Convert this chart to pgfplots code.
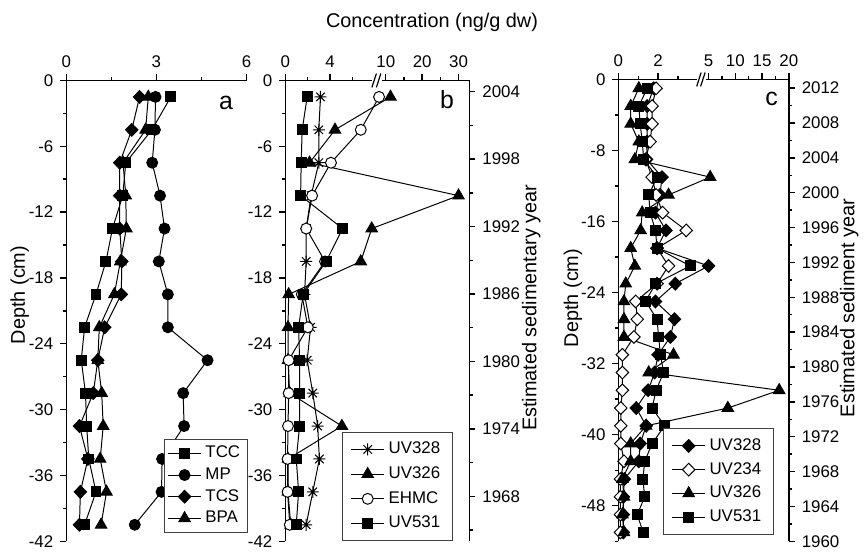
\documentclass[border=0pt]{standalone}
\usepackage{fontspec}
\setmainfont{Liberation Sans}
\usepackage{pgfplots}
\pgfplotsset{compat=1.18}

\pgfdeclareplotmark{ast8}{%
  \pgfpathmoveto{\pgfqpoint{-\pgfplotmarksize}{0pt}}\pgfpathlineto{\pgfqpoint{\pgfplotmarksize}{0pt}}%
  \pgfpathmoveto{\pgfqpoint{0pt}{-\pgfplotmarksize}}\pgfpathlineto{\pgfqpoint{0pt}{\pgfplotmarksize}}%
  \pgfpathmoveto{\pgfqpoint{-.707\pgfplotmarksize}{-.707\pgfplotmarksize}}\pgfpathlineto{\pgfqpoint{.707\pgfplotmarksize}{.707\pgfplotmarksize}}%
  \pgfpathmoveto{\pgfqpoint{-.707\pgfplotmarksize}{.707\pgfplotmarksize}}\pgfpathlineto{\pgfqpoint{.707\pgfplotmarksize}{-.707\pgfplotmarksize}}%
  \pgfusepathqstroke}

\pgfplotsset{
  panel/.style={
    scale only axis, anchor=south west, clip=false,
    axis line style={-, line width=0.7pt},
    tick align=outside, major tick length=3pt, minor tick length=1.8pt,
    every tick/.style={black, line width=0.7pt},
    tick label style={font=\fontsize{8.5}{10}\selectfont},
    /pgf/number format/assume math mode=true,
    /pgf/number format/1000 sep={},
    legend cell align=left,
    legend style={font=\fontsize{8.5}{10}\selectfont, draw=black!75, inner sep=1.5pt, row sep=-0.5pt},
    legend image code/.code={\draw[mark repeat=2,mark phase=2] plot coordinates {(0cm,0cm)(0.29cm,0cm)(0.58cm,0cm)};},
  },
  every axis plot/.append style={black, line width=0.5pt},
  sq/.style={mark=square*, mark size=2.5pt, mark options={solid, fill=black}},
  ci/.style={mark=*, mark size=2.75pt, mark options={solid, fill=black}},
  oc/.style={mark=*, mark size=2.75pt, mark options={solid, fill=white}},
  di/.style={mark=diamond*, mark size=3.2pt, mark options={solid, fill=black, xscale=1.3}},
  od/.style={mark=diamond*, mark size=3.2pt, mark options={solid, fill=white, xscale=1.3}},
  tr/.style={mark=triangle*, mark size=3.3pt, mark options={solid, fill=black}},
  as/.style={mark=ast8, mark size=3pt, mark options={solid}},
}

\begin{document}
\begin{tikzpicture}
\path (0,0) rectangle (432.5pt,277.5pt);

% ---------- panel a ----------
\begin{axis}[panel, at={(33.35pt,5pt)}, width=90.8pt, height=232pt,
  xmin=0, xmax=6, ymin=-42, ymax=0,
  axis x line*=top, axis y line*=left,
  xtick={0,3,6}, minor xtick={1.5,4.5},
  ytick={-42,-36,...,0}, minor ytick={-39,-33,...,-3},
  legend style={at={(axis description cs:1.005,0.018)}, anchor=south east}]
\addplot[sq] coordinates {(3.48,-1.5)(2.85,-4.5)(1.98,-7.5)(1.88,-10.5)(1.54,-13.5)(1.32,-16.5)(0.99,-19.5)(0.61,-22.5)(0.50,-25.5)(0.64,-28.5)(0.68,-31.5)(0.75,-34.5)(0.99,-37.5)(0.61,-40.5)};
\addlegendentry{TCC}
\addplot[ci] coordinates {(2.97,-1.5)(2.95,-4.5)(2.86,-7.5)(3.12,-10.5)(3.27,-13.5)(3.08,-16.5)(3.38,-19.5)(3.38,-22.5)(4.70,-25.5)(3.89,-28.5)(3.92,-31.5)(3.19,-34.5)(3.17,-37.5)(2.28,-40.5)};
\addlegendentry{MP}
\addplot[di] coordinates {(2.44,-1.5)(2.18,-4.5)(1.78,-7.5)(1.78,-10.5)(1.78,-13.5)(1.85,-16.5)(1.83,-19.5)(1.28,-22.5)(1.05,-25.5)(0.90,-28.5)(0.44,-31.5)(0.72,-34.5)(0.47,-37.5)(0.44,-40.5)};
\addlegendentry{TCS}
\addplot[tr] coordinates {(2.73,-1.5)(2.64,-4.5)(1.89,-7.5)(1.98,-10.5)(2.00,-13.5)(1.80,-16.5)(1.60,-19.5)(1.10,-22.5)(1.05,-25.5)(1.18,-28.5)(1.23,-31.5)(1.13,-34.5)(1.34,-37.5)(1.16,-40.5)};
\addlegendentry{BPA}
\end{axis}

% ---------- panel b ----------
\begin{axis}[panel, at={(143.65pt,5pt)}, width=92.7pt, height=232pt,
  x coord trafo/.code={\pgfmathparse{#1<9.5 ? #1 : 9+(#1-10)*0.326}},
  x coord inv trafo/.code={\pgfmathparse{#1}},
  xmin=0, xmax=33, ymin=-42, ymax=0,
  axis x line*=top, axis y line*=left,
  xtick={0,4,10,20,30}, xticklabels={0,4,10,20,30}, minor xtick={2,6,15,25},
  ytick={-42,-36,...,0}, minor ytick={-39,-33,...,-3},
  legend style={at={(axis description cs:0.908,0)}, anchor=south east, inner xsep=4pt, inner ysep=3pt, row sep=1pt}]
\addplot[as] coordinates {(3.15,-1.5)(3.0,-4.5)(3.0,-7.5)(2.31,-10.5)(1.87,-13.5)(1.87,-16.5)(1.72,-19.5)(2.26,-22.5)(1.96,-25.5)(2.46,-28.5)(2.9,-31.5)(3.05,-34.5)(2.46,-37.5)(1.87,-40.5)};
\addlegendentry{UV328}
\addplot[tr] coordinates {(11.3,-1.5)(4.45,-4.5)(2.17,-7.5)(30,-10.5)(7.74,-13.5)(6.76,-16.5)(0.3,-19.5)(0.24,-22.5)(0.24,-25.5)(0.39,-28.5)(5.07,-31.5)(0.24,-34.5)(0.24,-37.5)(0.48,-40.5)};
\addlegendentry{UV326}
\addplot[oc] coordinates {(8.4,-1.5)(6.76,-4.5)(4.09,-7.5)(2.4,-10.5)(1.87,-13.5)(3.56,-16.5)(1.48,-19.5)(2.02,-22.5)(0.3,-25.5)(0.3,-28.5)(0.24,-31.5)(0.2,-34.5)(0.2,-37.5)(0.4,-40.5)};
\addlegendentry{EHMC}
\addplot[sq] coordinates {(1.96,-1.5)(1.51,-4.5)(1.42,-7.5)(1.37,-10.5)(5.13,-13.5)(3.65,-16.5)(1.6,-19.5)(1.19,-22.5)(1.28,-25.5)(1.28,-28.5)(1.28,-31.5)(0.98,-34.5)(1.19,-37.5)(0.98,-40.5)};
\addlegendentry{UV531}
\end{axis}
\begin{axis}[panel, at={(143.65pt,5pt)}, width=92.7pt, height=232pt,
  xmin=0, xmax=1, ymin=1964, ymax=2005,
  axis x line=none, axis y line*=right,
  ytick={1968,1974,...,2004}, minor ytick={1965,1971,...,2001}]
\end{axis}

% ---------- panel c ----------
\begin{axis}[panel, at={(311.35pt,5pt)}, width=85.8pt, height=232.5pt,
  x coord trafo/.code={\pgfmathparse{#1<4.6 ? #1 : 4.55+(#1-5)*0.27}},
  x coord inv trafo/.code={\pgfmathparse{#1}},
  xmin=0, xmax=20, ymin=-52, ymax=0,
  axis x line*=top, axis y line*=left,
  xtick={0,2,5,10,15,20}, xticklabels={0,2,5,10,15,20}, minor xtick={1,3,7.5,12.5,17.5},
  ytick={-48,-40,...,0}, minor ytick={-52,-44,...,-4},
  legend style={at={(axis description cs:0.91,0.014)}, anchor=south east, inner xsep=4pt, inner ysep=3pt, row sep=0.5pt}]
\addplot[di] coordinates {(1.78,-1)(1.45,-3)(1.45,-5)(1.45,-7)(1.42,-9)(2.20,-11)(2.10,-13)(1.87,-15)(2.40,-17)(1.95,-19)(5.0,-21)(2.87,-23)(1.87,-25)(2.83,-27)(2.62,-29)(2.00,-31)(1.83,-33)(1.50,-35)(0.90,-37)(1.40,-39)(1.10,-41)(1.03,-43)(0.30,-45)(0.25,-47)(0.25,-49)(0.25,-51)};
\addlegendentry{UV328}
\addplot[od] coordinates {(1.90,-1)(1.70,-3)(1.70,-5)(1.60,-7)(1.37,-9)(1.70,-11)(1.90,-13)(2.23,-15)(3.42,-17)(1.95,-19)(2.53,-21)(1.95,-23)(0.87,-25)(0.95,-27)(0.78,-29)(0.20,-31)(0.20,-33)(0.20,-35)(0.12,-37)(0.12,-39)(0.12,-41)(0.28,-43)(0.10,-45)(0.10,-47)(0.10,-49)(0.10,-51)};
\addlegendentry{UV234}
\addplot[tr] coordinates {(1.03,-1)(0.62,-3)(0.62,-5)(1.03,-7)(0.83,-9)(5.3,-11)(2.53,-13)(1.20,-15)(1.12,-17)(0.62,-19)(0.83,-21)(0.37,-23)(0.28,-25)(0.28,-27)(0.28,-29)(2.78,-31)(1.53,-33)(18.2,-35)(8.6,-37)(1.40,-39)(0.62,-41)(0.62,-43)(0.20,-45)(0.28,-47)(0.20,-49)(0.28,-51)};
\addlegendentry{UV326}
\addplot[sq] coordinates {(1.45,-1)(1.03,-3)(1.10,-5)(1.20,-7)(1.28,-9)(1.95,-11)(1.53,-13)(1.60,-15)(1.87,-17)(1.95,-19)(3.62,-21)(1.87,-23)(1.37,-25)(1.95,-27)(2.03,-29)(2.12,-31)(2.28,-33)(1.90,-35)(1.70,-37)(2.33,-39)(1.70,-41)(1.33,-43)(1.23,-45)(1.33,-47)(0.95,-49)(1.25,-51)};
\addlegendentry{UV531}
\end{axis}
\begin{axis}[panel, at={(311.35pt,5pt)}, width=85.8pt, height=232.5pt,
  xmin=0, xmax=1, ymin=1960, ymax=2013,
  axis x line=none, axis y line*=right,
  ytick={1960,1964,...,2012}, minor ytick={1962,1966,...,2010}]
\end{axis}

% ---------- labels and axis breaks (image pixel units) ----------
\begin{scope}[x=0.5pt, y=-0.5pt, yshift=277.5pt, font=\fontsize{10}{12}\selectfont]
\node at (435,23) {Concentration (ng/g dw)};
\node[rotate=90] at (20,297) {Depth (cm)};
\node[rotate=90] at (535,310) {Estimated sedimentary year};
\node[rotate=90] at (577,300) {Depth (cm)};
\node[rotate=90] at (855,310) {Estimated sediment year};
\node[font=\fontsize{12.5}{14}\selectfont] at (227.7,104) {a};
\node[font=\fontsize{12.5}{14}\selectfont] at (450,100) {b};
\node[font=\fontsize{12.5}{14}\selectfont] at (777,100) {c};
\fill[white] (375,78) rectangle (385,84);
\draw[line width=0.6pt] (374.5,88) -- (379,74);
\draw[line width=0.6pt] (379,88) -- (383.5,74);
\fill[white] (702,77) rectangle (711,83);
\draw[line width=0.6pt] (701.5,87) -- (706,73);
\draw[line width=0.6pt] (705.5,87) -- (710,73);
\end{scope}
\end{tikzpicture}
\end{document}
